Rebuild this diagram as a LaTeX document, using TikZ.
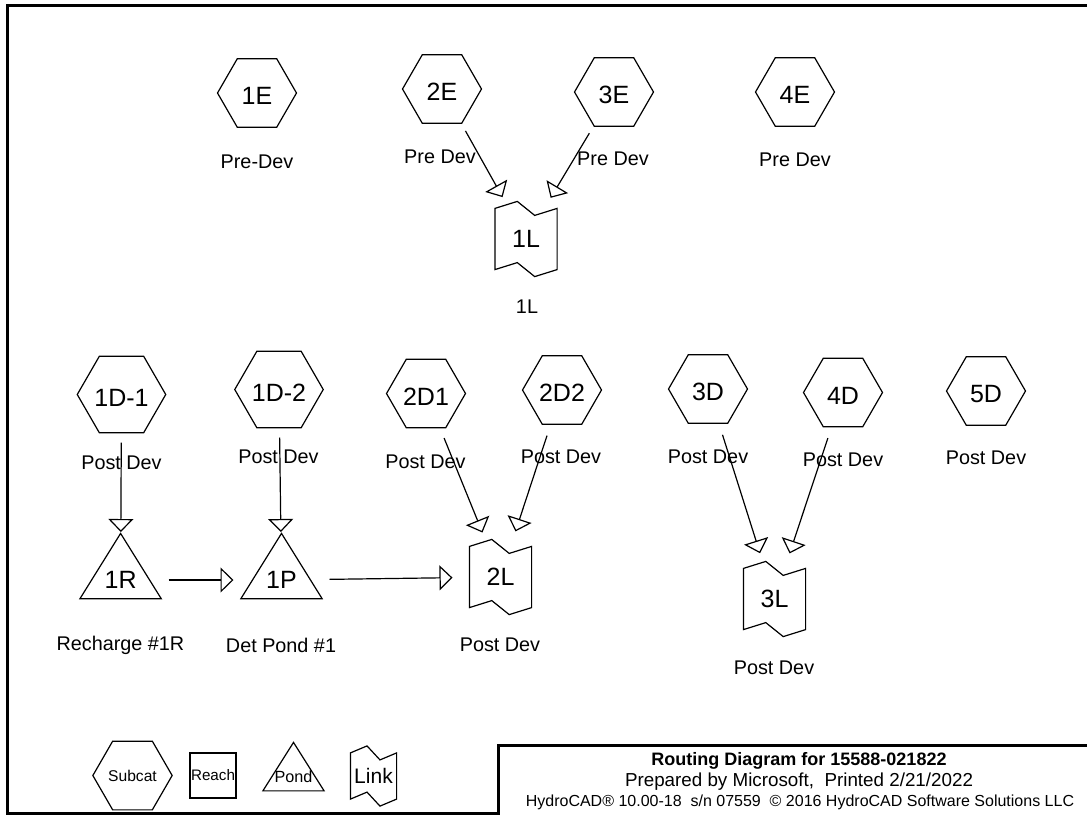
\documentclass[tikz,border=0pt]{standalone}
\usepackage{fontspec}
\setmainfont{Liberation Sans}
\usetikzlibrary{arrows.meta,shapes.geometric,calc}

\begin{document}
\begin{tikzpicture}[x=1pt,y=-1pt,line width=1.2pt,
 >={Triangle[open,length=13pt,width=25pt]},
 subcat/.style={draw,regular polygon,regular polygon sides=6,minimum size=79pt,inner sep=0pt,text height=23pt,text depth=0pt,font=\fontsize{25}{25}\selectfont},
 pond/.style={minimum width=80pt,minimum height=92pt,inner sep=0pt,font=\fontsize{25}{25}\selectfont},
 link/.style={minimum width=61pt,minimum height=60pt,inner sep=0pt,font=\fontsize{25}{25}\selectfont},
 lbl/.style={inner sep=0pt,font=\fontsize{19.8}{20}\selectfont},
 flow/.style={->},
 frameline/.style={line width=3pt}]
\useasboundingbox (0,0) rectangle (1087,815);
\draw[frameline] (1087,5) -- (7.5,5) -- (7.5,813) -- (498,813);
\draw[frameline] (1087,745) -- (498,745) -- (498,815);

% pre-development
\node[subcat] (e1) at (257,93) {1E};
\node[subcat] (e2) at (442,89) {2E};
\node[subcat] (e3) at (614,92) {3E};
\node[subcat] (e4) at (795,92) {4E};
\node[lbl] (e1c) at (257,162) {Pre-Dev};
\node[lbl] (e2c) at (440,157) {Pre Dev};
\node[lbl] (e3c) at (613,159) {Pre Dev};
\node[lbl] (e4c) at (795,160) {Pre Dev};
\node[link] (l1) at (526,239) {1L};
\node[lbl] (l1c) at (527,307) {1L};

% post-development
\node[subcat] (d11) at (121.5,394.5) {1D-1};
\node[subcat] (d12) at (279,389.5) {1D-2};
\node[subcat] (d21) at (426,393.5) {2D1};
\node[subcat] (d22) at (562,390) {2D2};
\node[subcat] (d3) at (708,389) {3D};
\node[subcat] (d4) at (843,392.5) {4D};
\node[subcat] (d5) at (986,391) {5D};
\node[lbl] (d11c) at (121.5,463) {Post Dev};
\node[lbl] (d12c) at (278.5,457) {Post Dev};
\node[lbl] (d21c) at (425.5,462) {Post Dev};
\node[lbl] (d22c) at (561,457) {Post Dev};
\node[lbl] (d3c) at (708,457) {Post Dev};
\node[lbl] (d4c) at (843,460) {Post Dev};
\node[lbl] (d5c) at (986,458) {Post Dev};
\node[pond] (r1) at (120.6,580) {1R};
\node[pond] (p1) at (281.5,580) {1P};
\node[link] (l2) at (500.5,577) {2L};
\node[link] (l3) at (774.5,599) {3L};
\node[lbl] (r1c) at (120.5,645) {Recharge \#1R};
\node[lbl] (p1c) at (281,645) {Det Pond \#1};
\node[lbl] (l2c) at (500,645) {Post Dev};
\node[lbl] (l3c) at (774,668) {Post Dev};

% legend
\node[subcat,minimum size=61pt,text height=11pt,font=\fontsize{15.6}{16}\selectfont] (kSub) at (132.5,775.5) {Subcat};
\node[draw,minimum width=46pt,minimum height=45pt,inner sep=0pt,font=\fontsize{15.2}{16}\selectfont] (kReach) at (213,775.5) {Reach};
\node[pond,minimum width=60pt,minimum height=68pt,font=\fontsize{16.2}{17}\selectfont] (kPond) at (293.5,777) {Pond};
\node[link,minimum width=45pt,minimum height=45pt,font=\fontsize{21}{21}\selectfont] (kLink) at (373.5,776) {Link};

\foreach \n in {r1,p1,kPond}
  \draw ($(\n.west)!0.4!(\n.south west)$) -- (\n.north) -- ($(\n.east)!0.4!(\n.south east)$) -- cycle;
\foreach \n in {l1,l2,l3,kLink}
  \draw (\n.north west) -- ($(\n.north west)!0.36!(\n.north east)+(0,-7)$) -- ($(\n.north west)!0.64!(\n.north east)+(0,7)$) -- (\n.north east)
    -- (\n.south east) -- ($(\n.south west)!0.64!(\n.south east)+(0,7)$) -- ($(\n.south west)!0.36!(\n.south east)+(0,-7)$) -- (\n.south west) -- cycle;

\foreach \a/\b in {e2/l1,e3/l1,d11/r1,d12/p1,r1/p1,p1/l2,d21/l2,d22/l2,d3/l3,d4/l3}
  \draw[flow] ($(\a)!48pt!(\b)$) -- ($(\b)!48pt!(\a)$);

% title block
\node[font=\bfseries\fontsize{18}{18}\selectfont] (ttl) at (799,761) {Routing Diagram for 15588-021822};
\node[font=\fontsize{18.8}{19}\selectfont] (prep) at (799,782) {Prepared by Microsoft,\ \ Printed 2/21/2022};
\node[font=\fontsize{16}{16}\selectfont] (soft) at (800,802) {HydroCAD® 10.00-18\ \ s/n 07559\ \ © 2016 HydroCAD Software Solutions LLC};
\end{tikzpicture}
\end{document}
